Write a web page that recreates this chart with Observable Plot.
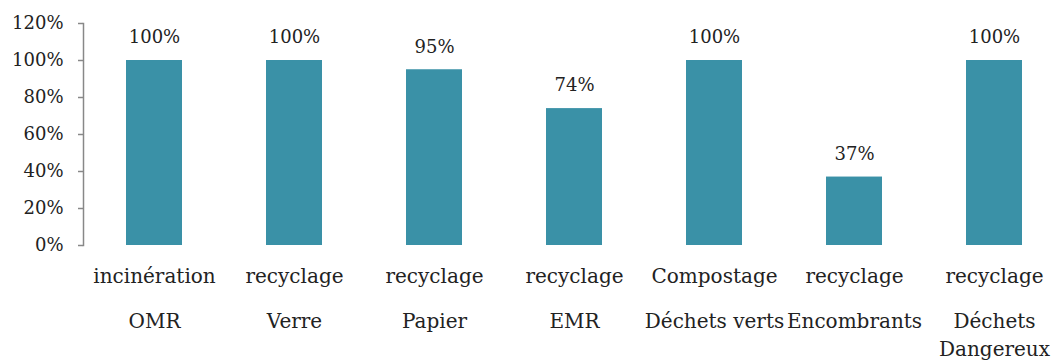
<!DOCTYPE html>
<html><head><meta charset="utf-8">
<script src="https://cdn.jsdelivr.net/npm/d3@7"></script>
<script src="https://cdn.jsdelivr.net/npm/@observablehq/plot@0.6"></script>
<style>body{margin:0;background:#fff}</style>
</head><body><div id="chart"></div>
<script>
const flux = ["OMR", "Verre", "Papier", "EMR", "Déchets verts", "Encombrants", "Déchets Dangereux"];
const filieres = ["incinération", "recyclage", "recyclage", "recyclage", "Compostage", "recyclage", "recyclage"];
const secondLine = ["OMR", "Verre", "Papier", "EMR", "Déchets verts", "Encombrants", "Déchets\nDangereux"];
const taux = [1.00, 1.00, 0.95, 0.74, 1.00, 0.37, 1.00];
const yTicks = [0, 0.2, 0.4, 0.6, 0.8, 1.0, 1.2];

const data = flux.map((f, i) => ({flux: f, filiere: filieres[i], label2: secondLine[i], taux: taux[i]}));
const font = "DejaVu Serif";
const chart = Plot.plot({
  width: 1051, height: 360,
  marginTop: 23, marginBottom: 115, marginLeft: 83, marginRight: 0,
  style: {fontFamily: font, fontSize: "18px", color: "#222", background: "#fff"},
  x: {domain: flux, range: [84, 1064], paddingInner: 0.6, paddingOuter: 0.3, axis: null},
  y: {domain: [0, 1.2], axis: null},
  marks: [
    Plot.barY(data, {x: "flux", y: "taux", fill: "#3a91a7"}),
    Plot.frame({anchor: "left", stroke: "#888", strokeWidth: 1.5}),
    Plot.axisY({ticks: yTicks, label: null, tickSize: 5, tickPadding: 15, stroke: "#888", strokeWidth: 1.5, fontSize: 18, fill: "#222", tickFormat: d => Math.round(d * 100) + "%"}),
    Plot.text(data, {x: "flux", y: "taux", text: d => Math.round(d.taux * 100) + "%", dy: -23, fill: "#222", fontSize: 18}),
    Plot.text(data, {x: "flux", y: 0, text: "filiere", dy: 31, fill: "#222", fontSize: 20}),
    Plot.text(data, {x: "flux", y: 0, text: "label2", lineAnchor: "top", dy: 63, lineHeight: 1.38, fill: "#222", fontSize: 20})
  ]
});
document.getElementById("chart").append(chart);
</script></body></html>
